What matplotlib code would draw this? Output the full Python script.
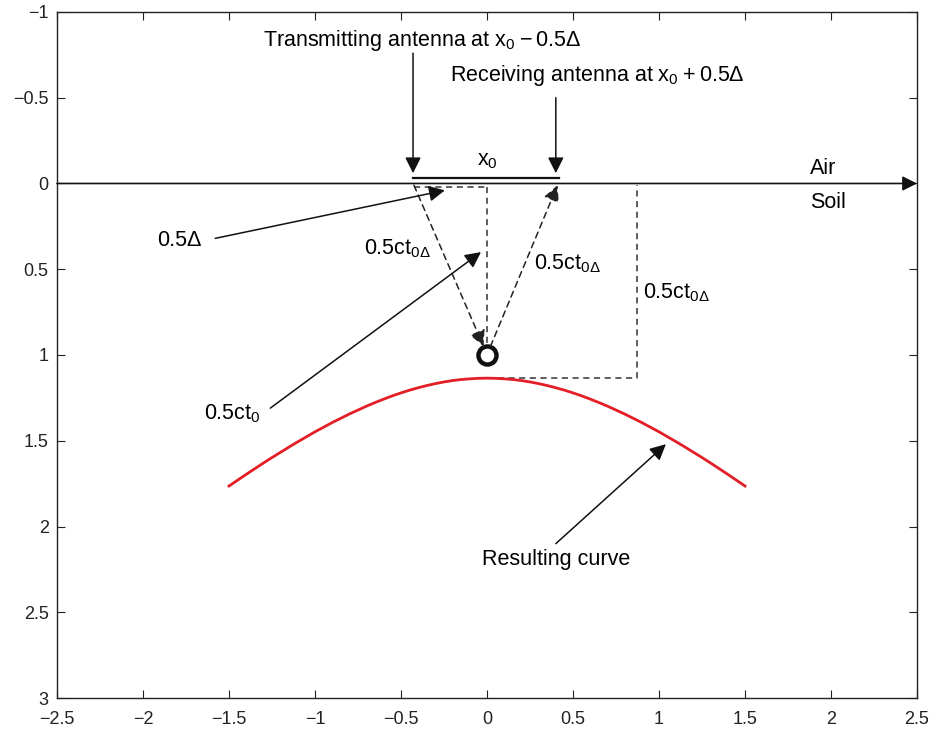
import matplotlib
matplotlib.use('Agg')
import matplotlib.pyplot as plt

plt.rcParams['font.family'] = ['Liberation Sans', 'DejaVu Sans']
plt.rcParams['mathtext.fontset'] = 'custom'
plt.rcParams['mathtext.rm'] = 'Liberation Sans'
plt.rcParams['mathtext.it'] = 'Liberation Sans:italic'
plt.rcParams['mathtext.bf'] = 'Liberation Sans:bold'

# resulting curve
curve_x = [-1.5, -1.45, -1.4, -1.35, -1.3, -1.25, -1.2, -1.15, -1.1, -1.05,
           -1.0, -0.95, -0.9, -0.85, -0.8, -0.75, -0.7, -0.65, -0.6, -0.55,
           -0.5, -0.45, -0.4, -0.35, -0.3, -0.25, -0.2, -0.15, -0.1, -0.05,
           0.0, 0.05, 0.1, 0.15, 0.2, 0.25, 0.3, 0.35, 0.4, 0.45,
           0.5, 0.55, 0.6, 0.65, 0.7, 0.75, 0.8, 0.85, 0.9, 0.95,
           1.0, 1.05, 1.1, 1.15, 1.2, 1.25, 1.3, 1.35, 1.4, 1.45, 1.5]
curve_y = [1.764, 1.730, 1.696, 1.663, 1.630, 1.598, 1.567, 1.536, 1.506, 1.477,
           1.448, 1.421, 1.394, 1.369, 1.344, 1.321, 1.298, 1.277, 1.257, 1.238,
           1.221, 1.205, 1.191, 1.178, 1.167, 1.157, 1.149, 1.143, 1.139, 1.136,
           1.135, 1.136, 1.139, 1.143, 1.149, 1.157, 1.167, 1.178, 1.191, 1.205,
           1.221, 1.238, 1.257, 1.277, 1.298, 1.321, 1.344, 1.369, 1.394, 1.421,
           1.448, 1.477, 1.506, 1.536, 1.567, 1.598, 1.630, 1.663, 1.696, 1.730, 1.764]

# sketch geometry
tx_x = -0.43       # transmitting antenna
rx_x = 0.40        # receiving antenna
seg_l, seg_r = -0.43, 0.42
target_x = 0.0
target_y = 1.0
apex_y = 1.135
box_x = 0.87
surf_y = 0.02

xticks = [-2.5, -2, -1.5, -1, -0.5, 0, 0.5, 1, 1.5, 2, 2.5]
yticks = [-1, -0.5, 0, 0.5, 1, 1.5, 2, 2.5, 3]


def fmt(v):
    return ('%g' % v).replace('-', '\u2212')


fig = plt.figure(figsize=(9.37, 7.30), dpi=100)
ax = fig.add_axes([0.0608, 0.0438, 0.9179, 0.9398])
ax.set_xlim(-2.5, 2.5)
ax.set_ylim(3, -1)
ax.set_xticks(xticks)
ax.set_yticks(yticks)
ax.set_xticklabels([fmt(v) for v in xticks])
ax.set_yticklabels([fmt(v) for v in yticks])
ax.tick_params(direction='in', top=True, right=True, length=6, width=0.8,
               labelsize=13, colors='#222222')
ax.tick_params(axis='x', pad=9)
ax.tick_params(axis='y', pad=6)
for s in ax.spines.values():
    s.set_linewidth(1.0)
    s.set_color('#222222')

fs = 15.5
dash = dict(color='#333333', lw=1.1, linestyle=(0, (4, 3)))
solid_arrow = dict(arrowstyle='-|>', color='#111111', lw=1.1,
                   mutation_scale=24, shrinkA=0, shrinkB=0)
dash_arrow = dict(arrowstyle='-|>', color='#222222', lw=1.1,
                  linestyle=(0, (4, 3)), mutation_scale=24, shrinkA=0, shrinkB=0)

# air / soil interface
ax.annotate('', xy=(2.5, 0), xytext=(-2.5, 0),
            arrowprops=dict(arrowstyle='-|>', color='#111111', lw=1.2,
                            mutation_scale=22, shrinkA=0, shrinkB=0))
ax.text(1.955, -0.09, 'Air', fontsize=fs, ha='center', va='center')
ax.text(1.985, 0.11, 'Soil', fontsize=fs, ha='center', va='center')

# antenna offset segment
ax.plot([seg_l, seg_r], [-0.032, -0.032], color='#111111', lw=1.6)
ax.text(0.0, -0.135, 'x$_0$', fontsize=fs, ha='center', va='center')

ax.annotate('', xy=(tx_x, -0.06), xytext=(tx_x, -0.76), arrowprops=solid_arrow)
ax.text(-0.375, -0.835, 'Transmitting antenna at x$_0$\u2009\u2212\u20090.5\u0394',
        fontsize=fs, ha='center', va='center')
ax.annotate('', xy=(rx_x, -0.06), xytext=(rx_x, -0.50), arrowprops=solid_arrow)
ax.text(0.64, -0.63, 'Receiving antenna at x$_0$\u2009+\u20090.5\u0394', fontsize=fs,
        ha='center', va='center')

# ray paths
ax.plot([tx_x + 0.005, target_x], [surf_y, surf_y], **dash)
ax.plot([target_x, target_x], [surf_y, 0.95], **dash)
ax.annotate('', xy=(target_x - 0.02, 0.95), xytext=(tx_x + 0.005, 0.01),
            arrowprops=dash_arrow)
ax.annotate('', xy=(rx_x + 0.01, 0.01), xytext=(target_x + 0.02, 0.95),
            arrowprops=dash_arrow)
ax.plot([target_x, box_x, box_x], [apex_y, apex_y, 0.01], **dash)

# buried target
ax.plot([target_x], [target_y], 'o', ms=13, mfc='white', mec='#111111', mew=3.2)

# resulting curve
ax.plot(curve_x, curve_y, color='#e41e26', lw=2.0)

# labels
ax.annotate('', xy=(-0.245, 0.04), xytext=(-1.58, 0.32), arrowprops=solid_arrow)
ax.text(-1.79, 0.335, '0.5\u0394', fontsize=fs, ha='center', va='center')
ax.text(-0.52, 0.38, '0.5ct$_{0\u0394}$', fontsize=fs, ha='center', va='center')
ax.text(0.47, 0.465, '0.5ct$_{0\u0394}$', fontsize=fs, ha='center', va='center')
ax.text(1.1, 0.635, '0.5ct$_{0\u0394}$', fontsize=fs, ha='center', va='center')
ax.annotate('', xy=(-0.035, 0.40), xytext=(-1.26, 1.31), arrowprops=solid_arrow)
ax.text(-1.48, 1.345, '0.5ct$_0$', fontsize=fs, ha='center', va='center')
ax.annotate('', xy=(1.04, 1.52), xytext=(0.40, 2.10), arrowprops=solid_arrow)
ax.text(0.40, 2.19, 'Resulting curve', fontsize=fs, ha='center', va='center')

fig.savefig('out.png', dpi=100)
